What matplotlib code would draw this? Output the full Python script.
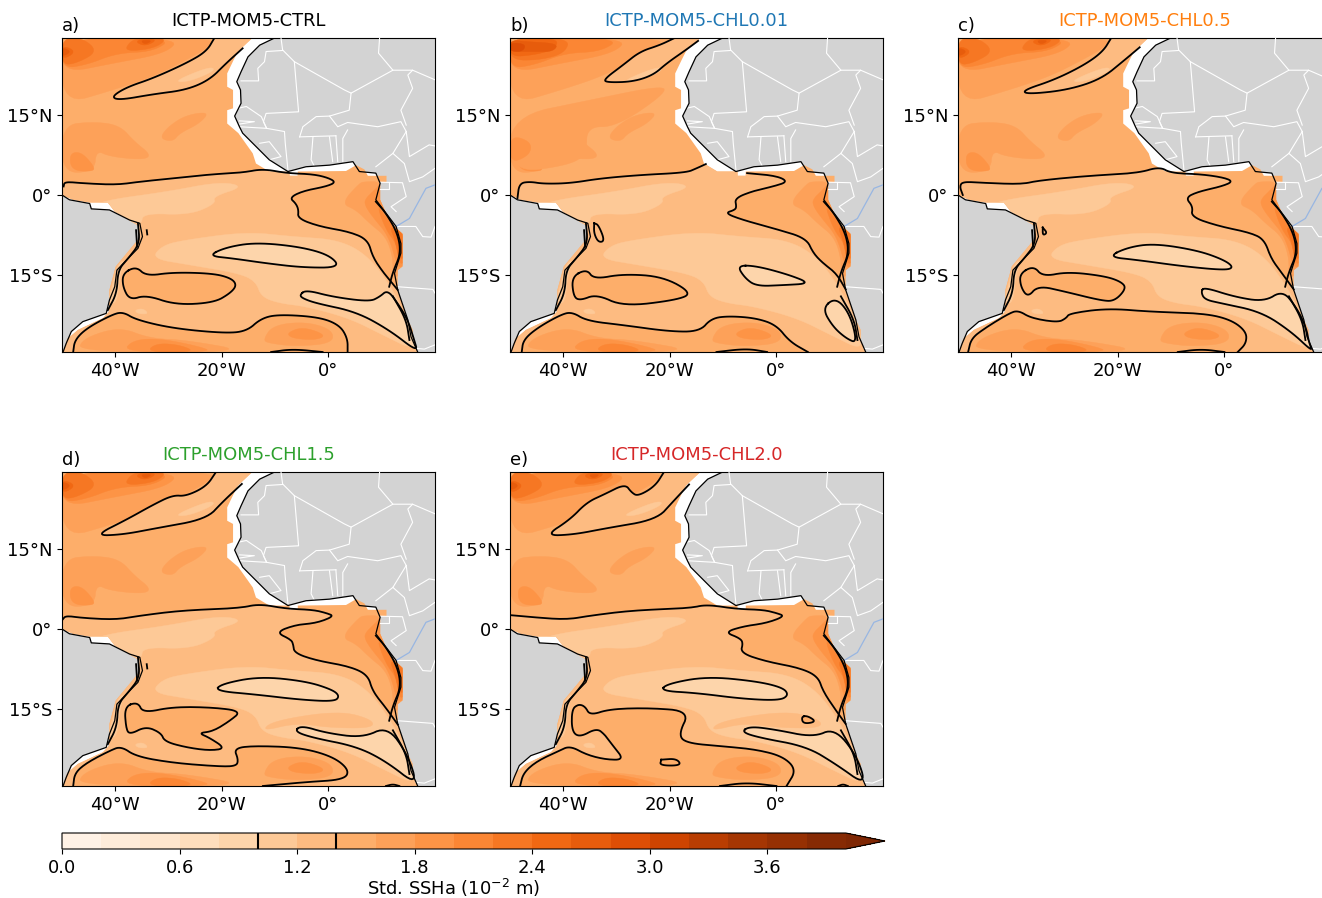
"""
Std. SSHa over the tropical Atlantic, CTRL and four chlorophyll runs.
Band outlines and contours are read off the published figure (lon, lat).
"""

import numpy as np
import matplotlib
matplotlib.use("Agg")
import matplotlib.pyplot as plt
from matplotlib.cm import ScalarMappable
from matplotlib.colors import BoundaryNorm, ListedColormap
from matplotlib.patches import Polygon

LEVELS = [round(0.2 * i, 1) for i in range(21)]
CBAR_TICKS = [0.0, 0.6, 1.2, 1.8, 2.4, 3.0, 3.6]
CONTOUR_LEVELS = [1.0, 1.4]
LON_TICKS = [-40, -20, 0]
LON_LABELS = ["40°W", "20°W", "0°"]
LAT_TICKS = [15, 0, -15]
LAT_LABELS = ["15°N", "0°", "15°S"]
LAT_MAX = 29.44

# land and model mask
AFRICA = [(-10.1, 29.44), (-12.9, 28.1), (-15.1, 25.9), (-16.4, 23.1), (-17.2, 21.25), (-16.5, 19.7),
          (-16.4, 17.2), (-17.6, 14.8), (-16.7, 12.8), (-16.1, 11.6), (-13.6, 9.1), (-11.1, 6.6),
          (-7.6, 4.4), (-4.2, 5.3), (0.2, 5.6), (4.6, 6.25), (5.8, 4.4), (8.9, 4.1), (9.7, 2.2),
          (8.9, -0.9), (10.8, -3.4), (12.7, -5.9), (13.6, -9.1), (13.6, -10.9), (12.4, -14.7),
          (13, -17.8), (14.9, -23.4), (15.5, -26.6), (16.75, -29.44)]
AMERICA = [(-50, 0), (-48.6, -0.9), (-44.8, -1.6), (-44.5, -2.6), (-41.1, -2.8), (-37.3, -4.7),
           (-35.4, -5.3), (-34.9, -7.8), (-35.75, -10), (-37.9, -12.2), (-39.7, -14.1), (-40.1, -17.2),
           (-41.1, -19.7), (-41.7, -22.2), (-46.1, -23.75), (-48.25, -25.6), (-49.2, -27.8), (-49.8, -29.44)]
OCEAN = [(-50, 29.44), (-14.3, 29.44), (-17, 26.9), (-17.8, 25.3), (-19, 22.8), (-19, 20.3), (-17.9, 19.7),
         (-17.9, 16.25), (-19, 15.9), (-19, 13.4), (-16.9, 11.6), (-14.2, 7.8), (-13.6, 5.9), (-11.1, 4.4),
         (-7.3, 4.4), (-7.3, 3.6), (-5.75, 3.6), (-5.75, 4.4), (3.3, 4.5), (5.2, 5.6), (6.75, 4.8), (7.4, 3.6),
         (10.9, 3.6), (10.9, 2.4), (9.7, 2.4), (9.7, -0.9), (11.1, -4.1), (12.4, -5.9), (13.9, -7.3),
         (13.9, -13.4), (13, -14.1), (13, -17.8), (14.6, -22.8), (15.8, -25.3), (15.8, -27.2), (16.75, -29.44),
         (-49.8, -29.44), (-49, -27), (-47, -25.3), (-42.3, -23.1), (-41.2, -21.9), (-41.1, -17.8),
         (-39.9, -13.4), (-35.75, -8.4), (-35.4, -5.9), (-40.1, -3.1), (-41.4, -1.4), (-44.8, -1.4),
         (-47.9, -0.9), (-50, 0)]
BORDERS = [
    [(-8.9, 29.44), (-8.6, 27.2), (-6.4, 25), (3, 19.7), (4.25, 19.1), (12.1, 23.4), (15.8, 23.4), (20, 21.6)],
    [(9.6, 29.44), (9.4, 26.6), (12.1, 23.4)],
    [(-8.6, 27.1), (-11.7, 26.9), (-12, 25), (-13.25, 23.75), (-13.1, 21.4), (-16.4, 21.4)],
    [(-6.4, 25), (-5.6, 15.6), (-11.7, 15.3), (-12.2, 13.75), (-11.6, 12.5)],
    [(4.25, 19.1), (3.9, 15.9), (0.2, 14.8), (-2.3, 14.7), (-4.8, 12.8), (-5.4, 10.9)],
    [(15.8, 23.4), (14.9, 22.5), (15.8, 20), (13.6, 15.9), (14.6, 13.1)],
    [(0.2, 14.8), (1.75, 12.8), (3.6, 13.6), (9.25, 12.8), (13.6, 13.75), (14.6, 11.9)],
    [(14.6, 11.9), (12.1, 7.8), (8.9, 5.3)],
    [(-17, 16.25), (-15.4, 16.6), (-12.6, 14.7), (-11.6, 12.5), (-16.7, 12.8)],
    [(-16.7, 13.9), (-13.9, 13.75), (-16.7, 13.3)],
    [(-11.6, 12.5), (-8.25, 11.9), (-8.1, 9.7), (-7.6, 4.7)],
    [(-12.9, 9.7), (-11.1, 10), (-8.9, 7.2), (-11.1, 6.6)],
    [(-5.4, 10.9), (1.4, 11.1)],
    [(-2.9, 10.9), (-3.25, 6.6), (-2.6, 5.3)],
    [(0.2, 10.9), (0.8, 6.25)],
    [(1.4, 11.1), (1.75, 6.25)],
    [(3.6, 12.2), (2.7, 10.6), (2.7, 6.25)],
    [(14.6, 11.9), (15.2, 7.2), (18.9, 9.4), (20, 9.2)],
    [(12.1, 7.8), (14.25, 5.9), (15.2, 2.5), (17.7, 3.4), (20, 5)],
    [(9.7, 2.4), (13.9, 2.3), (14.6, -0.3), (11.75, -2.2), (12.7, -3.1)],
    [(9.7, 1.06), (11.4, 1.06), (11.4, 2.4)],
    [(12.7, -5.9), (16.4, -5.9), (17.7, -7.8), (19.25, -7.9), (20, -5.9)],
    [(13, -17.2), (19.6, -17.7), (20, -18.4)],
    [(16.4, -28.75), (18, -28.9), (20, -28.1)],
]
RIVER = [(20, 1.9), (18.3, 1.25), (16.4, -2.2), (15.2, -4.4), (12.7, -5.9)]

# filled bands shared by the runs: (lower bound of the band, outline)
FIELD_BELOW = [
    (1.6, [(-50, 29.44), (-21.4, 29.44), (-22.3, 27.8), (-26.7, 25.3), (-32.9, 22.2), (-40.4, 19.7), (-50, 16.9)]),
    (1.8, [(-50, 29.44), (-27.9, 29.44), (-30.4, 26.6), (-40.4, 24.7), (-50, 22.8)]),
    (2.0, [(-50, 29.44), (-29.2, 29.44), (-32.9, 26.9), (-39.8, 26.6), (-45.4, 24.4), (-50, 23.75)]),
    (1.6, [(-50, 13.1), (-44.2, 13.75), (-39.2, 13.1), (-36.4, 10), (-33.25, 7.5), (-34.8, 6.6), (-41, 7.2),
           (-43.6, 8.4), (-43.9, 4.4), (-50, 4.1)]),
    (1.6, [(-31.7, 10.6), (-30.1, 12.8), (-26.7, 15), (-22.3, 15.6), (-24.2, 13.4), (-27.9, 11.6), (-29.2, 10)]),
    (1.8, [(-48.6, 7.8), (-46.4, 8.1), (-43.9, 5.3), (-44.2, 4.4), (-48.25, 4.6)]),
    (1.6, [(2.4, -1.6), (5.8, 2.2), (6.75, 2.5), (10.2, 2.5), (12.1, -4.1), (14.25, -7.3), (14.25, -13.4),
           (13, -15.3), (12.1, -15.3), (12.1, -11.6), (10.8, -7.8), (7.7, -5.3), (5.2, -2.8)]),
    (1.8, [(6.75, -0.9), (8.6, 0.9), (10.2, 2.5), (12.1, -4.1), (14.25, -7.3), (14.25, -13.1), (13, -13.75),
           (11.4, -7.8), (8.3, -4.1), (7, -2.2)]),
    (2.0, [(9, -1.6), (11.1, -4.7), (12.7, -5.3), (14.25, -7.3), (14.25, -12.8), (13.2, -12.8), (12.8, -9.1),
           (10.8, -6.6)]),
    (2.2, [(11.4, -5.6), (14.25, -7.3), (14.25, -11.9), (13.2, -11.9), (12.6, -8.75)]),
    (1.6, [(-47, -29.44), (-46.1, -26.9), (-39.2, -24.7), (-33.6, -26.9), (-26.7, -27.2), (-14.2, -29.44)]),
    (1.8, [(-38.6, -29.44), (-36.7, -27.2), (-31.7, -26.9), (-24.2, -28.4), (-21.7, -29.44)]),
    (2.0, [(-34.2, -29.44), (-32.3, -27.8), (-27.9, -28.1), (-24.8, -29.44)]),
    (1.6, [(-12.3, -27.2), (-10.4, -24.4), (-4.2, -23.75), (0.8, -25.3), (0.8, -27.8), (-6.1, -28.4), (-11.1, -27.8)]),
    (1.8, [(-7.9, -25.9), (-4.8, -24.7), (-0.4, -26.25), (-2.3, -27.2), (-6.7, -26.9)]),
]
FIELD_TONGUE = [
    (1.0, [(-44.5, -2.2), (-41.4, -0.9), (-30.4, 0.6), (-20.4, 2.5), (-15.75, 1.6), (-21.7, -0.3), (-21.1, -1.6),
           (-26.1, -3.75), (-34.8, -3.4), (-35.1, -5.6), (-37.3, -5), (-41.4, -2.8)]),
    (1.0, [(-33.25, -11.9), (-31.1, -9.4), (-26.7, -8.4), (-15.4, -6.9), (-6.7, -7.8), (2.1, -8.4), (7.7, -11.6),
           (12.1, -17.8), (14.6, -22.8), (16.75, -29.44), (10.2, -26.25), (3.9, -23.1), (-4.2, -20.9), (-9.2, -20.3),
           (-12.6, -19.1), (-13.6, -16.25), (-16.7, -14.7), (-26.1, -13.1)]),
    (1.0, [(-41.4, -20.3), (-40.75, -17.8), (-39.7, -13.4), (-38.25, -11.9), (-39.2, -15.3), (-39.7, -20.3)]),
    (1.0, [(-36.4, -21.6), (-34.8, -21.25), (-33.7, -22.3), (-35.7, -22.3)]),
    (1.0, [(-29.2, 21.25), (-22.3, 24.1), (-21.1, 23.4), (-26.1, 21.25)]),
]

# north-west maximum, which differs between runs
HOT_NW = [
    (2.2, [(-50, 29.44), (-46.1, 29.44), (-43.25, 26.9), (-47.3, 24.7), (-50, 24.4)]),
    (2.2, [(-38.25, 26.9), (-37.3, 28.75), (-35.4, 29.44), (-30.1, 29.44), (-32.6, 27.5)]),
    (2.4, [(-50, 28.1), (-47.25, 26.9), (-50, 25.3)]),
    (2.4, [(-36.1, 28.6), (-35.4, 29.2), (-32, 29.2), (-34.25, 27.9)]),
    (2.6, [(-50, 27.7), (-48.2, 26.9), (-50, 25.9)]),
    (2.6, [(-35.3, 29), (-33, 29), (-34.4, 28.2)]),
]
HOT_B = [
    (1.6, [(-50, 14.7), (-35, 17.8), (-21.25, 20.6), (-20.9, 19), (-30, 12.8), (-35.6, 12.8), (-35.6, 7.8),
           (-38.75, 5.6), (-50, 4.1)]),
    (1.8, [(-50, 11.25), (-46, 10), (-46.25, 7.5), (-50, 5.9)]),
    (2.2, [(-50, 29.44), (-38.75, 29.44), (-39.7, 26.6), (-44.4, 25.3), (-50, 25.3)]),
    (2.4, [(-50, 29.44), (-40.9, 29.44), (-41.6, 27.3), (-45.6, 26.25), (-50, 25.9)]),
    (2.6, [(-50, 29.06), (-46.9, 28.75), (-40.9, 28.4), (-41.9, 26.9), (-45, 26.9), (-50, 26.9)]),
    (2.8, [(-50, 28.6), (-47, 28.3), (-47.6, 26.9), (-50, 26.9)]),
]
PATCH_DE = [(-12.6, -19.2), (-10.4, -17.2), (2, -15.3), (8.3, -17), (8.3, -18.6), (0, -18.5), (-6, -17.6)]

# contours shared by the runs
BRAZIL_LINES = [
    [(-35.75, -5.3), (-35.4, -9.1), (-37.6, -11.9), (-39.5, -14.1), (-39.7, -18.4), (-41.4, -21.6)],
    [(-36.1, -6.6), (-35.9, -9.7)],
]
SE_LINES = [
    [(8.9, -1.25), (10.8, -3.4), (13, -7.2), (13.6, -10.9), (12.1, -14.4), (11.4, -17.2)],
    [(12.1, -19), (14.6, -23.4), (15.2, -27.2)],
]

# panel a, ICTP-MOM5-CTRL
EQ_A = [[(-49.7, 1.6), (-49.5, 2.5), (-46.1, 2.2), (-39.8, 1.9), (-35.4, 2.5), (-27.9, 3.25), (-21.7, 3.9), (-16.1, 4.2),
         (-12.3, 4.9), (-7.9, 4.1), (-2.9, 3.9), (-0.1, 3.25), (1.4, 2.4), (-0.4, 1.6), (-4.8, 0.75), (-7.3, -0.5),
         (-6.1, -1.6), (-5.6, -2.8), (-5.75, -4.4), (-1.7, -5.9), (4, -6.9), (7.4, -8.4), (8.3, -11.6), (10.2, -14.4),
         (11.75, -16.25), (13, -17.8)]]
SOUTH_A = [(-47.9, -29.44), (-47.6, -27.2), (-45.4, -25), (-40.75, -22.5), (-38.6, -21.9), (-36.1, -23.4), (-29.2, -25),
           (-19.8, -25.9), (-15.4, -25.6), (-12.6, -23.1), (-9.2, -22.4), (-1.7, -22.9), (2.1, -24.4), (3.6, -26.9),
           (3.6, -29.44)]
NORTH_A = [(-21.4, 29.44), (-22.9, 26.9), (-26.7, 24.7), (-32.9, 21.9), (-37.9, 20.2), (-40.75, 18.4), (-39.2, 17.8),
           (-32.9, 18.9), (-26.7, 19.7), (-22.3, 21.6), (-19.2, 24.7), (-16.1, 27.5)]
ISLANDS_A = [[(-38.6, -14.7), (-36.1, -13.4), (-34.2, -15.2), (-29.2, -14.5), (-21.7, -14.7), (-18.25, -15.6),
              (-17.2, -16.9), (-18.4, -18.4), (-21.5, -20.2), (-28.7, -20.6), (-34.2, -18.75), (-37.3, -19.7),
              (-38.6, -17.2)]]
POCKETS_A = [[(-22.6, -11.4), (-19.2, -9.8), (-13.6, -8.9), (-5.4, -9.7), (0.2, -11.25), (2.25, -13.6), (-4.8, -13.6),
              (-11.7, -12.8), (-17.9, -11.9)],
             [(-5.4, -18.75), (-4.2, -17.8), (0.8, -19.1), (7.7, -20), (9.6, -19.1), (11.1, -17.8), (13, -20.3),
              (14.9, -23.4), (16.1, -27.2), (16.75, -29.44), (11.4, -25.3), (5.2, -21.9), (-2.3, -20.3), (-4.8, -19.4)]]
EXTRA_A = [[(-10.75, -29.44), (-6.7, -28.9), (-1.1, -29.44)], [(-34.1, -6.6), (-34, -7.4)]]

# panel b, ICTP-MOM5-CHL0.01
EQ_B = [[(-48.6, -0.6), (-48.25, 2.2), (-46.25, 2.5), (-43.75, 2.1), (-38.75, 2.2), (-33.1, 3.1), (-25.6, 3.75),
         (-16.9, 4.2), (-15, 5), (-13.25, 5.8)],
        [(-5.5, 4.1), (0, 3.6), (2.2, 2.5), (-0.6, 1.6), (-4.4, 0.75), (-7.8, -0.6), (-7.5, -2.2), (-7.8, -2.8),
         (-9.7, -3.4), (-6.25, -4.7), (0, -6.4), (5.6, -8.1), (6.9, -10.9), (8.75, -12.8), (11.25, -14.7), (13, -17.7)]]
SOUTH_B = [(-47.8, -29.44), (-47.5, -27.2), (-45, -25), (-40.6, -22.5), (-38.4, -21.9), (-35.6, -23.6), (-28.75, -24.4),
           (-20, -25.6), (-14.4, -25.6), (-12.2, -23.1), (-8.75, -22.7), (-3.75, -23.1), (0, -24.4), (2.5, -27.5),
           (5.9, -29.44)]
NORTH_B = [(-19.1, 29.44), (-21.9, 28.1), (-25.6, 26.9), (-28.75, 24.4), (-32.5, 21.6), (-31.6, 21.1), (-26.9, 21.25),
           (-23.1, 22.5), (-20.6, 24.7), (-17, 27.2), (-14.7, 28.9)]
ISLANDS_B = [[(-38.4, -15.3), (-35.6, -13.9), (-34.25, -15.8), (-28.75, -14.8), (-21.25, -15.3), (-15.75, -18.4),
              (-18.75, -19.7), (-28.75, -20.9), (-33.75, -18.6), (-36.9, -19.8), (-38.1, -19)]]
POCKETS_B = [[(-7.4, -13.2), (-3.75, -13.3), (2.5, -15), (6.4, -16.6), (1.25, -16.9), (-3.75, -17.1), (-5.9, -15.6)],
             [(8.6, -21.25), (11.1, -19.2), (13.75, -22.2), (15.2, -27.8), (13.1, -26.9), (10.6, -24.7)]]
EXTRA_B = [[(-11.25, -29.44), (-5.6, -28.8), (-1.75, -29.44)],
           [(-34.2, -5.3), (-33.4, -5.6), (-32.2, -8.6), (-33.4, -8.9), (-34.25, -7.2), (-34.2, -5.3)]]

# panel c, ICTP-MOM5-CHL0.5
EQ_C = [[(-49.1, 0), (-49.7, 1.6), (-49.1, 2.5), (-45.6, 2.3), (-38.1, 2), (-35, 2.7), (-25.6, 3.6), (-16.25, 4.1),
         (-12.2, 5.3), (-10, 4.1), (-4.4, 3.9), (0, 3.25), (1.6, 2.5), (-0.6, 1.6), (-5, 0.6), (-7.3, -0.5),
         (-5.9, -2.2), (-6.25, -4.1), (-1.25, -5.8), (5, -7.1), (7.5, -8.4), (8.75, -11.9), (10.6, -14.4), (13, -17.7)]]
SOUTH_C = [(-48.1, -29.44), (-47.5, -26.9), (-45, -25), (-40.6, -22.3), (-38.75, -21.6), (-36.25, -23.1), (-31.25, -23.9),
           (-29.7, -23.1), (-29.1, -22.2), (-21.9, -21.25), (-13.75, -21.9), (-3.75, -22.2), (1.25, -23.4), (4.1, -25.6),
           (4.1, -27.8), (2.5, -29.44)]
NORTH_C = [(-21.25, 29.44), (-22.8, 26.9), (-26.25, 24.4), (-31.9, 21.6), (-37.9, 19.6), (-36.9, 18.9), (-29.4, 19.7),
           (-23.1, 21.75), (-18.75, 25.3), (-15.9, 27.7)]
ISLANDS_C = [[(-38.4, -14.7), (-35.8, -13.3), (-34.1, -15.3), (-29.4, -14.4), (-22.5, -15.2), (-19.4, -16.25),
              (-18.4, -17.5), (-20.6, -19.9), (-23.1, -19.8), (-30, -18.1), (-35, -17), (-36.9, -19.2), (-38.25, -17.2)]]
POCKETS_C = [[(-21.9, -11.6), (-18.1, -9.8), (-13.1, -9.1), (-5, -10.4), (0, -12.2), (1.75, -13.6), (0, -14.1),
              (-7.5, -13.4), (-16.25, -12.2)],
             [(-4.4, -18.1), (-3.75, -17.3), (1.9, -19.1), (7.5, -20), (10.9, -17.9), (13.4, -20.9), (15.3, -24.7),
              (15.9, -27.8), (16.6, -29.44), (12.5, -25.6), (6.9, -21.9), (-0.6, -20.3), (-3.75, -19.6)]]
EXTRA_C = [[(-8.75, -29.44), (-4.4, -28.9), (0, -29.44)],
           [(-34.1, -6.1), (-33.25, -7.1), (-34.1, -7.6), (-34.1, -6.1)]]

# panel d, ICTP-MOM5-CHL1.5
EQ_D = [[(-49.9, 1.75), (-49.3, 2.5), (-46.1, 2.06), (-39.8, 1.75), (-35.4, 2.5), (-27.3, 3.5), (-16.7, 3.9), (-13, 4.7),
         (-7.9, 3.8), (-2.9, 3.6), (-0.4, 3), (1.1, 2.4), (-2.3, 1.1), (-6.1, 0.8), (-9.9, -0.6), (-7, -2), (-6.6, -2.9),
         (-6.4, -4.5), (-2.3, -5.9), (3.9, -7), (7.4, -8.6), (8.3, -11.7), (10.8, -14.8), (13, -17.9)]]
SOUTH_D = [(-47.9, -29.44), (-47.6, -27), (-45.4, -25.1), (-41, -22.8), (-38.9, -22), (-36.1, -23.9), (-29.2, -25.1),
           (-21, -25.75), (-17.3, -25.75), (-16.9, -24.5), (-17.75, -22.4), (-14.2, -21.9), (-5.4, -22.2), (0.8, -23.9),
           (3.9, -26.4), (3, -28.25), (-4.2, -28.7), (-12.3, -29.44)]
NORTH_D = [(-21.1, 29.44), (-22.9, 26.75), (-26.75, 24.9), (-29.2, 25.1), (-32.9, 23.3), (-37.9, 20.5), (-43.9, 17.5),
           (-38.6, 17.7), (-32.3, 18.9), (-22.9, 20.6), (-19.8, 23.9), (-16.25, 27.2)]
ISLANDS_D = [[(-38.25, -14.5), (-35.75, -13.7), (-34.8, -15.75), (-29.2, -14.6), (-21.7, -14.7), (-16.3, -15.4),
              (-18.6, -17.3), (-21.7, -19.2), (-24.4, -19.5), (-22.3, -20.4), (-19.3, -22.4), (-22.3, -22.8),
              (-26.7, -22.2), (-30.75, -21.1), (-31.4, -19.5), (-34.25, -18.25), (-37.3, -19.8), (-38, -18.6)]]
POCKETS_D = [[(-21.25, -11.6), (-20.1, -10.3), (-12.9, -8.9), (-4.2, -9.8), (0.8, -11.4), (2.1, -12.6), (1.1, -13.6),
              (-5.4, -13.25), (-13.5, -12.3)],
             [(-6.4, -19.2), (-5.1, -18.1), (-0.4, -19.5), (6.4, -20.4), (11.1, -18.25), (14.9, -23.6), (16.75, -29.44),
              (10.8, -24.8), (5.2, -22), (-2.9, -20.4)]]
EXTRA_D = [[(10.8, -29.44), (12.1, -29.1), (13.3, -29.44)], [(-34.1, -6.6), (-34, -7.4)]]

# panel e, ICTP-MOM5-CHL2.0
EQ_E = [[(-50, 2.6), (-45.6, 2.2), (-39.4, 1.75), (-35, 2.5), (-26.9, 3.5), (-16.25, 3.9), (-13.1, 4.6), (-7.5, 3.75),
         (-2.5, 3.6), (0, 3), (1.6, 2.4), (-1.9, 1.1), (-6.25, 0.5), (-9.7, -0.6), (-6.9, -1.7), (-6.25, -2.6),
         (-6.75, -4.5), (-1.9, -6.1), (4.4, -7.3), (7.8, -8.9), (8.75, -11.7), (11.25, -15.4), (13, -17.8)]]
SOUTH_E = [(-48.1, -29.44), (-47.5, -27), (-45, -24.8), (-40.9, -22.9), (-38.75, -21.9), (-35.6, -23.6), (-31.9, -24.5),
           (-28.6, -24.5), (-30.6, -22), (-32.2, -19.8), (-33.75, -18.6), (-36.9, -20.3), (-38.4, -19.2), (-38.4, -15.1),
           (-37.2, -14.1), (-35.9, -14.5), (-35, -16.2), (-31.25, -15), (-23.75, -14.8), (-16.25, -15.4), (-18.4, -19.8),
           (-16.9, -21.4), (-10, -22), (-3.75, -22.6), (1.25, -23.9), (3.75, -26.4), (1.9, -29.44)]
NORTH_E = [(-21.1, 29.44), (-22.8, 26.75), (-26, 24.9), (-27.2, 25.6), (-28.4, 27.2), (-32.2, 25.3), (-35.6, 23.75),
           (-38.75, 20.5), (-43.4, 17.5), (-38.1, 17.7), (-31.9, 18.9), (-22.5, 20.5), (-19.4, 23.9), (-16.4, 27.1)]
ISLANDS_E = [[(4.7, -16.4), (5.9, -16.3), (7.5, -17.4), (5, -17.8)]]
POCKETS_E = [[(-21.7, -11.6), (-20.6, -10.3), (-13.1, -8.9), (-3.75, -9.8), (1.25, -11), (2.3, -12.4), (0.6, -13.4),
              (-6.25, -13.1), (-15, -12)],
             [(-6.6, -19.3), (-5, -18.25), (0, -18.9), (6.9, -20.3), (10.9, -18.6), (15, -23.6), (16.9, -29.44),
              (11.25, -25.4), (5.6, -22), (-3.1, -20.4)]]
EXTRA_E = [[(-10.6, -29.44), (-5.6, -28.8), (0, -29.44)], [(11.6, -29.44), (12.5, -29.1), (13.4, -29.44)],
           [(-21.6, -24.5), (-18.75, -24.3), (-17.8, -25.6), (-21.9, -25.6), (-21.6, -24.5)]]

TAGS = ["a)", "b)", "c)", "d)", "e)"]
TITLES = ["ICTP-MOM5-CTRL", "ICTP-MOM5-CHL0.01", "ICTP-MOM5-CHL0.5", "ICTP-MOM5-CHL1.5", "ICTP-MOM5-CHL2.0"]
TITLE_COLORS = ["black", "tab:blue", "tab:orange", "tab:green", "tab:red"]

W, H = 1322, 898
base = plt.get_cmap("Oranges")
# contourf colours each layer by its midpoint, the extension takes the top of the map
cmap = ListedColormap([base((lev + 0.1) / 4.0) for lev in LEVELS[:-1]])
cmap.set_over(base(1.0))
norm = BoundaryNorm(LEVELS, ncolors=20)


def band(level):
    return cmap(norm(level + 0.1))


def smooth(pts, closed=False, n=3):
    # Chaikin corner cutting, the traced outlines are too angular otherwise
    p = np.asarray(pts, dtype=float)
    for _ in range(n):
        if closed:
            a, b = p, np.roll(p, -1, axis=0)
            p = np.column_stack([0.75 * a + 0.25 * b, 0.25 * a + 0.75 * b]).reshape(-1, 2)
        else:
            a, b = p[:-1], p[1:]
            mid = np.column_stack([0.75 * a + 0.25 * b, 0.25 * a + 0.75 * b]).reshape(-1, 2)
            p = np.vstack([p[:1], mid, p[-1:]])
    return p


def fill(ax, pts, level, clip, z=2, closed_smooth=True):
    xy = smooth(pts, closed=True) if closed_smooth else np.asarray(pts)
    patch = Polygon(xy, closed=True, fc=band(level), ec=band(level), lw=0.3, zorder=z)
    ax.add_patch(patch)
    patch.set_clip_path(clip)


def line(ax, pts, closed=False):
    xy = smooth(pts, closed=closed)
    if closed:
        xy = np.vstack([xy, xy[:1]])
    ax.plot(xy[:, 0], xy[:, 1], color="black", lw=1.3, zorder=6, solid_joinstyle="round")


def draw_panel(ax, tag, title, color, eq, south, north, islands, pockets, extra, hot, patches):
    ax.set_xlim(-50, 20)
    ax.set_ylim(-LAT_MAX, LAT_MAX)
    africa = AFRICA + [(20, -LAT_MAX), (20, LAT_MAX)]
    america = AMERICA + [(-50, -LAT_MAX)]
    ax.add_patch(Polygon(africa, closed=True, fc="lightgrey", ec="none", zorder=1))
    ax.add_patch(Polygon(america, closed=True, fc="lightgrey", ec="none", zorder=1))

    ocean = Polygon(OCEAN, closed=True, fc=band(1.4), ec="none", zorder=2)
    ax.add_patch(ocean)

    for level, pts in FIELD_BELOW + hot:
        fill(ax, pts, level, ocean)

    # 1.2-1.4 tongue, closed along the coast and the bottom of the map
    eq_all = np.vstack([smooth(part) for part in eq])
    south_xy = smooth(south)
    tongue = np.vstack([eq_all, [(20, eq_all[-1, 1]), (20, -LAT_MAX)], south_xy[::-1],
                        [(-50, -LAT_MAX), (-50, eq_all[0, 1])]])
    fill(ax, tongue, 1.2, ocean, closed_smooth=False)
    north_xy = np.vstack([smooth(north), [(-14, LAT_MAX)]])
    fill(ax, north_xy, 1.2, ocean, closed_smooth=False)

    for level, pts in FIELD_TONGUE:
        fill(ax, pts, level, ocean)
    for pts in patches:
        fill(ax, pts, 1.2, ocean)
    for pts in islands:
        fill(ax, pts, 1.4, ocean)
    for pts in pockets:
        fill(ax, pts, 0.8, ocean)

    for seg in BORDERS:
        xs, ys = zip(*seg)
        ax.plot(xs, ys, color="white", lw=0.8, zorder=4)
    xs, ys = zip(*RIVER)
    ax.plot(xs, ys, color="#98b6e2", lw=0.9, zorder=4)
    for coast in (AFRICA, AMERICA):
        xs, ys = zip(*coast)
        ax.plot(xs, ys, color="black", lw=0.9, zorder=5)

    for part in eq:
        line(ax, part)
    line(ax, south)
    line(ax, north)
    for pts in islands + pockets:
        line(ax, pts, closed=True)
    for pts in extra + BRAZIL_LINES + SE_LINES:
        line(ax, pts)

    ax.set_xticks(LON_TICKS)
    ax.set_xticklabels(LON_LABELS)
    ax.set_yticks(LAT_TICKS)
    ax.set_yticklabels(LAT_LABELS)
    ax.tick_params(labelsize=13, length=3.5, width=0.8)
    # the centre title sits higher than the panel letter, set_title shares one pad
    ax.text(0.5, 1.037, title, color=color, fontsize=12.9, ha="center", va="baseline", transform=ax.transAxes)
    ax.set_title(tag, loc="left", fontsize=13, pad=5)


def main():
    fig = plt.figure(figsize=(W / 100, H / 100), dpi=100)

    boxes = [(62, 38), (510, 38), (958, 38), (62, 472), (510, 472)]
    eqs = [EQ_A, EQ_B, EQ_C, EQ_D, EQ_E]
    souths = [SOUTH_A, SOUTH_B, SOUTH_C, SOUTH_D, SOUTH_E]
    norths = [NORTH_A, NORTH_B, NORTH_C, NORTH_D, NORTH_E]
    islands = [ISLANDS_A, ISLANDS_B, ISLANDS_C, ISLANDS_D, ISLANDS_E]
    pockets = [POCKETS_A, POCKETS_B, POCKETS_C, POCKETS_D, POCKETS_E]
    extras = [EXTRA_A, EXTRA_B, EXTRA_C, EXTRA_D, EXTRA_E]
    hots = [HOT_NW, HOT_B, HOT_NW, HOT_NW, HOT_NW]
    patches = [[], [], [], [PATCH_DE], [PATCH_DE]]

    for i, (left, top) in enumerate(boxes):
        ax = fig.add_axes([left / W, 1 - (top + 314) / H, 373 / W, 314 / H])
        draw_panel(ax, TAGS[i], TITLES[i], TITLE_COLORS[i], eqs[i], souths[i], norths[i],
                   islands[i], pockets[i], extras[i], hots[i], patches[i])

    cax = fig.add_axes([62 / W, 1 - 849 / H, 823 / W, 16 / H])
    sm = ScalarMappable(norm=norm, cmap=cmap)
    cbar = fig.colorbar(sm, cax=cax, orientation="horizontal", extend="max", ticks=CBAR_TICKS,
                        spacing="proportional", drawedges=False)
    cbar.minorticks_off()
    cbar.ax.tick_params(labelsize=13, length=3.5, width=0.8)
    cbar.set_ticklabels([f"{t:.1f}" for t in CBAR_TICKS])
    cbar.set_label("Std. SSHa ($10^{-2}$ m)", fontsize=12.9, labelpad=0)
    for lev in CONTOUR_LEVELS:
        cbar.ax.axvline(lev, color="black", lw=1.5)

    fig.savefig("out.png", dpi=100)
    plt.close(fig)


if __name__ == "__main__":
    main()
